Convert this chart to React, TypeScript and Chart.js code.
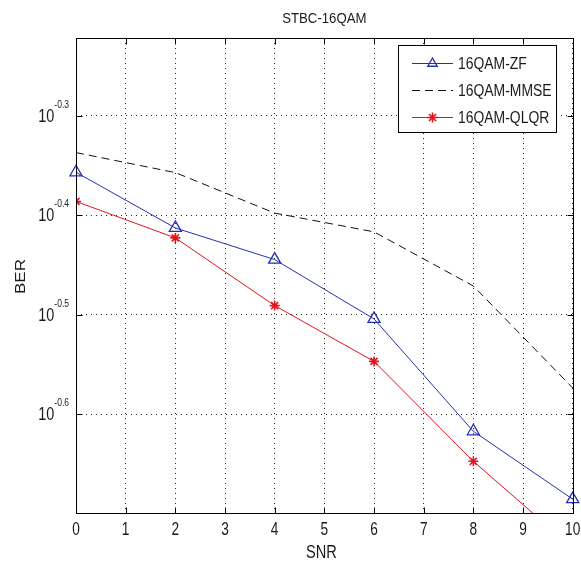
import React, { useEffect, useRef } from "react";
import { Chart, registerables } from "chart.js";

Chart.register(...registerables);

// ---------------- data ----------------
const snrValues = [0, 2, 4, 6, 8, 10];
const berZF = [0.4398, 0.3867, 0.3594, 0.3133, 0.2416, 0.2065];
const berMMSE = [0.4603, 0.4395, 0.4002, 0.3832, 0.3381, 0.2671];
const berQLQR = [0.4111, 0.3779, 0.3231, 0.284, 0.2254, 0.1845];
const seriesNames = ["16QAM-ZF", "16QAM-MMSE", "16QAM-QLQR"];
const xTickValues = [0, 1, 2, 3, 4, 5, 6, 7, 8, 9, 10];
const yTickExponents = [-0.6, -0.5, -0.4, -0.3];
const yTickExpLabels = ["-0.6", "-0.5", "-0.4", "-0.3"];
const titleText = "STBC-16QAM";
const xTitle = "SNR";
const yTitle = "BER";

const FONT = '"Liberation Sans", Arial, Helvetica, sans-serif';
const TEXT = "#1a1a1a";
const BLUE = "#2430b0";
const RED = "#e3141c";
const BLACK = "#111111";

function drawText(
  ctx: CanvasRenderingContext2D,
  text: string,
  x: number,
  y: number,
  size: number,
  sx: number,
  align: "left" | "center" | "right"
) {
  ctx.save();
  ctx.font = `${size}px ${FONT}`;
  ctx.textBaseline = "alphabetic";
  ctx.textAlign = "left";
  ctx.fillStyle = TEXT;
  const w = ctx.measureText(text).width * sx;
  const x0 = align === "center" ? x - w / 2 : align === "right" ? x - w : x;
  ctx.translate(x0, y);
  ctx.scale(sx, 1);
  ctx.fillText(text, 0, 0);
  ctx.restore();
  return w;
}

function measure(ctx: CanvasRenderingContext2D, text: string, size: number, sx: number) {
  ctx.save();
  ctx.font = `${size}px ${FONT}`;
  const w = ctx.measureText(text).width * sx;
  ctx.restore();
  return w;
}

function drawTriangle(ctx: CanvasRenderingContext2D, x: number, y: number, r: number) {
  const a = (2 * Math.PI) / 3;
  ctx.beginPath();
  for (let i = 0; i < 3; i++) {
    const rad = i * a;
    const px = x + Math.sin(rad) * r;
    const py = y - Math.cos(rad) * r;
    if (i === 0) ctx.moveTo(px, py);
    else ctx.lineTo(px, py);
  }
  ctx.closePath();
  ctx.stroke();
}

function drawStar(ctx: CanvasRenderingContext2D, x: number, y: number, r: number) {
  ctx.beginPath();
  for (let i = 0; i < 4; i++) {
    const rad = (i * Math.PI) / 4;
    ctx.moveTo(x + Math.cos(rad) * r, y + Math.sin(rad) * r);
    ctx.lineTo(x - Math.cos(rad) * r, y - Math.sin(rad) * r);
  }
  ctx.stroke();
}

const decorPlugin = {
  id: "matlabDecor",
  afterDraw(chart: any) {
    const ctx: CanvasRenderingContext2D = chart.ctx;
    const area = chart.chartArea;
    const xs = chart.scales.x;
    const ys = chart.scales.y;
    const L = Math.round(area.left) + 0.5;
    const R = Math.round(area.right) + 0.5;
    const T = Math.round(area.top) + 0.5;
    const B = Math.round(area.bottom) + 0.5;

    // frame
    ctx.save();
    ctx.strokeStyle = "#000";
    ctx.lineWidth = 1;
    ctx.setLineDash([]);
    ctx.strokeRect(L, T, R - L, B - T);

    // inward ticks
    const tl = 6;
    ctx.beginPath();
    xTickValues.forEach((v) => {
      const px = Math.round(xs.getPixelForValue(v)) + 0.5;
      ctx.moveTo(px, B);
      ctx.lineTo(px, B - tl);
      ctx.moveTo(px, T);
      ctx.lineTo(px, T + tl);
    });
    yTickExponents.forEach((e) => {
      const py = Math.round(ys.getPixelForValue(Math.pow(10, e))) + 0.5;
      ctx.moveTo(L, py);
      ctx.lineTo(L + tl, py);
      ctx.moveTo(R, py);
      ctx.lineTo(R - tl, py);
    });
    ctx.stroke();
    ctx.restore();

    // x tick labels
    xTickValues.forEach((v) => {
      const px = xs.getPixelForValue(v);
      drawText(ctx, String(v), px, area.bottom + 22, 18.5, 0.74, "center");
    });

    // y tick labels: 10^exp
    yTickExponents.forEach((e, i) => {
      const py = ys.getPixelForValue(Math.pow(10, e));
      const sup = yTickExpLabels[i];
      const supSize = 10;
      const supSx = 0.85;
      const rightEdge = area.left - 7;
      const wSup = measure(ctx, sup, supSize, supSx);
      const baseRight = rightEdge - wSup;
      drawText(ctx, "10", baseRight, py + 6, 18.5, 0.78, "right");
      drawText(ctx, sup, baseRight, py - 8, supSize, supSx, "left");
    });

    // titles
    const cx = (area.left + area.right) / 2;
    drawText(ctx, titleText, cx, 23, 15, 0.88, "center");
    drawText(ctx, xTitle, cx - 3, area.bottom + 45, 19, 0.77, "center");

    // y title (rotated)
    ctx.save();
    ctx.font = `17px ${FONT}`;
    ctx.fillStyle = TEXT;
    ctx.textAlign = "center";
    ctx.textBaseline = "alphabetic";
    ctx.translate(25, (area.top + area.bottom) / 2 + 1);
    ctx.rotate(-Math.PI / 2);
    ctx.scale(1, 0.86);
    ctx.fillText(yTitle, 0, 0);
    ctx.restore();

    // legend
    const bx = 398.5;
    const by = 45.5;
    const bw = 158;
    const bh = 87;
    ctx.save();
    ctx.fillStyle = "#fff";
    ctx.fillRect(bx, by, bw, bh);
    ctx.strokeStyle = "#000";
    ctx.lineWidth = 1;
    ctx.strokeRect(bx, by, bw, bh);
    const rowsY = [63, 90, 117];
    const x1 = 412;
    const x2 = 453;
    const mx = (x1 + x2) / 2;
    chart.data.datasets.forEach((ds: any, i: number) => {
      const y = rowsY[i] + 0.5;
      ctx.save();
      ctx.strokeStyle = ds.borderColor;
      ctx.lineWidth = ds.borderWidth;
      ctx.setLineDash(ds.borderDash || []);
      ctx.beginPath();
      ctx.moveTo(x1, y);
      ctx.lineTo(x2, y);
      ctx.stroke();
      ctx.setLineDash([]);
      ctx.strokeStyle = ds.pointBorderColor;
      ctx.lineWidth = ds.pointBorderWidth;
      if (ds.pointRadius > 0) {
        if (ds.pointStyle === "triangle") drawTriangle(ctx, mx, y, ds.pointRadius - 1.5);
        else if (ds.pointStyle === "star") drawStar(ctx, mx, y, ds.pointRadius);
      }
      ctx.restore();
      drawText(ctx, ds.label, 458, rowsY[i] + 6, 16, 0.87, "left");
    });
    ctx.restore();
  },
};

export default function App() {
  const canvasRef = useRef<HTMLCanvasElement | null>(null);

  useEffect(() => {
    if (!canvasRef.current) return;
    const toPts = (arr: number[]) => snrValues.map((x, i) => ({ x, y: arr[i] }));
    const chart = new Chart(canvasRef.current, {
      type: "line",
      data: {
        datasets: [
          {
            label: seriesNames[0],
            data: toPts(berZF),
            borderColor: BLUE,
            borderWidth: 1,
            pointStyle: "triangle",
            pointRadius: 7,
            pointBorderColor: BLUE,
            pointBackgroundColor: "rgba(0,0,0,0)",
            pointBorderWidth: 1.3,
            pointHoverRadius: 7,
            tension: 0,
            clip: false,
          } as any,
          {
            label: seriesNames[1],
            data: toPts(berMMSE),
            borderColor: BLACK,
            borderWidth: 1,
            borderDash: [8, 5],
            pointRadius: 0,
            pointBorderColor: BLACK,
            pointBorderWidth: 1,
            tension: 0,
            clip: false,
          } as any,
          {
            label: seriesNames[2],
            data: toPts(berQLQR),
            borderColor: RED,
            borderWidth: 1,
            pointStyle: "star",
            pointRadius: 5,
            pointBorderColor: RED,
            pointBackgroundColor: RED,
            pointBorderWidth: 1.6,
            pointHoverRadius: 5,
            tension: 0,
            clip: 0,
          } as any,
        ],
      },
      options: {
        animation: false,
        responsive: false,
        devicePixelRatio: 1,
        events: [],
        layout: { padding: { top: 38, right: 8, left: 0, bottom: 0 } },
        plugins: {
          legend: { display: false },
          title: { display: false },
          tooltip: { enabled: false },
        },
        scales: {
          x: {
            type: "linear",
            min: 0,
            max: 10,
            ticks: { display: false, stepSize: 1 },
            afterBuildTicks: (scale: any) => {
              scale.ticks = xTickValues.map((v) => ({ value: v }));
            },
            afterFit: (scale: any) => {
              scale.height = 49;
            },
            grid: { color: "rgba(0,0,0,0.85)", lineWidth: 1, drawTicks: false },
            border: { display: false, dash: [1, 4] },
          },
          y: {
            type: "logarithmic",
            min: 0.2,
            max: 0.6,
            ticks: { display: false },
            afterBuildTicks: (scale: any) => {
              scale.ticks = yTickExponents.map((e) => ({ value: Math.pow(10, e) }));
            },
            afterFit: (scale: any) => {
              scale.width = 76;
            },
            grid: { color: "rgba(0,0,0,0.85)", lineWidth: 1, drawTicks: false },
            border: { display: false, dash: [1, 4] },
          },
        },
      } as any,
      plugins: [decorPlugin],
    });
    return () => chart.destroy();
  }, []);

  return (
    <div style={{ position: "fixed", left: 0, top: 0, width: 581, height: 562, background: "#fff" }}>
      <canvas ref={canvasRef} width={581} height={562} style={{ display: "block" }} />
    </div>
  );
}
